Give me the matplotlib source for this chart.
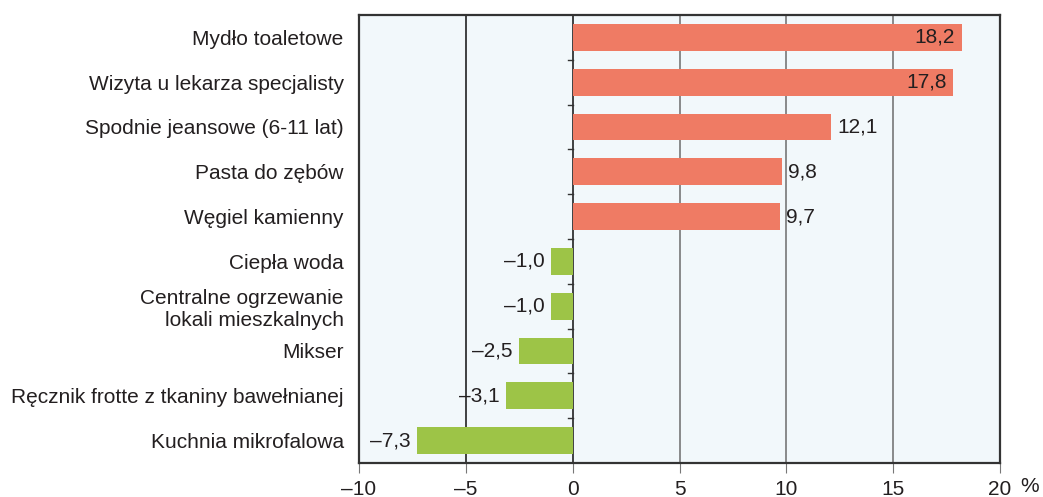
import matplotlib.pyplot as plt
import numpy as np

plt.rcParams['font.family'] = ['Liberation Sans', 'DejaVu Sans']

categories = ["Mydło toaletowe", "Wizyta u lekarza specjalisty", "Spodnie jeansowe (6-11 lat)",
              "Pasta do zębów", "Węgiel kamienny", "Ciepła woda",
              "Centralne ogrzewanie\nlokali mieszkalnych", "Mikser",
              "Ręcznik frotte z tkaniny bawełnianej", "Kuchnia mikrofalowa"]
values = [18.2, 17.8, 12.1, 9.8, 9.7, -1.0, -1.0, -2.5, -3.1, -7.3]
xticks = [-10, -5, 0, 5, 10, 15, 20]

fs = 15
fig = plt.figure(figsize=(10.43, 4.97), dpi=100)
ax = fig.add_axes([359/1043, 34/497, 641/1043, 448/497])
ax.set_facecolor('#f2f8fb')

y = np.arange(len(values))
colors = ['#ef7b64' if v > 0 else '#9dc447' for v in values]
ax.barh(y, values, height=0.6, color=colors, zorder=3)

ax.set_xlim(-10, 20)
ax.set_ylim(len(values) - 0.5, -0.5)

for x in xticks[1:-1]:
    c = '#222222' if x <= 0 else '#777777'
    ax.axvline(x, color=c, lw=1.2, zorder=1)

# little ticks on the zero line between categories
for b in np.arange(0.5, len(values) - 1, 1):
    ax.plot([-0.2, 0], [b, b], color='#333333', lw=1, zorder=2)

for yi, v in zip(y, values):
    s = ('%.1f' % abs(v)).replace('.', ',')
    if v < 0:
        ax.text(v - 0.3, yi, '–' + s, ha='right', va='center', fontsize=fs, color='#231f20')
    elif v > 15:
        ax.text(v - 0.3, yi, s, ha='right', va='center', fontsize=fs, color='#231f20', zorder=4)
    else:
        ax.text(v + 0.3, yi, s, ha='left', va='center', fontsize=fs, color='#231f20')

ax.set_yticks(y)
ax.set_yticklabels(categories, fontsize=fs, color='#231f20')
ax.tick_params(axis='y', length=0, pad=11)
ax.set_xticks(xticks)
ax.set_xticklabels([('–%d' % -t) if t < 0 else str(t) for t in xticks], fontsize=fs, color='#231f20')
ax.tick_params(axis='x', length=7, color='#777777', pad=5)

for sp in ax.spines.values():
    sp.set_color('#333333')
    sp.set_linewidth(1.6)

fig.text(1030/1043, 1 - 486/497, '%', ha='center', va='center', fontsize=fs, color='#231f20')

fig.savefig('out.png', dpi=100)
